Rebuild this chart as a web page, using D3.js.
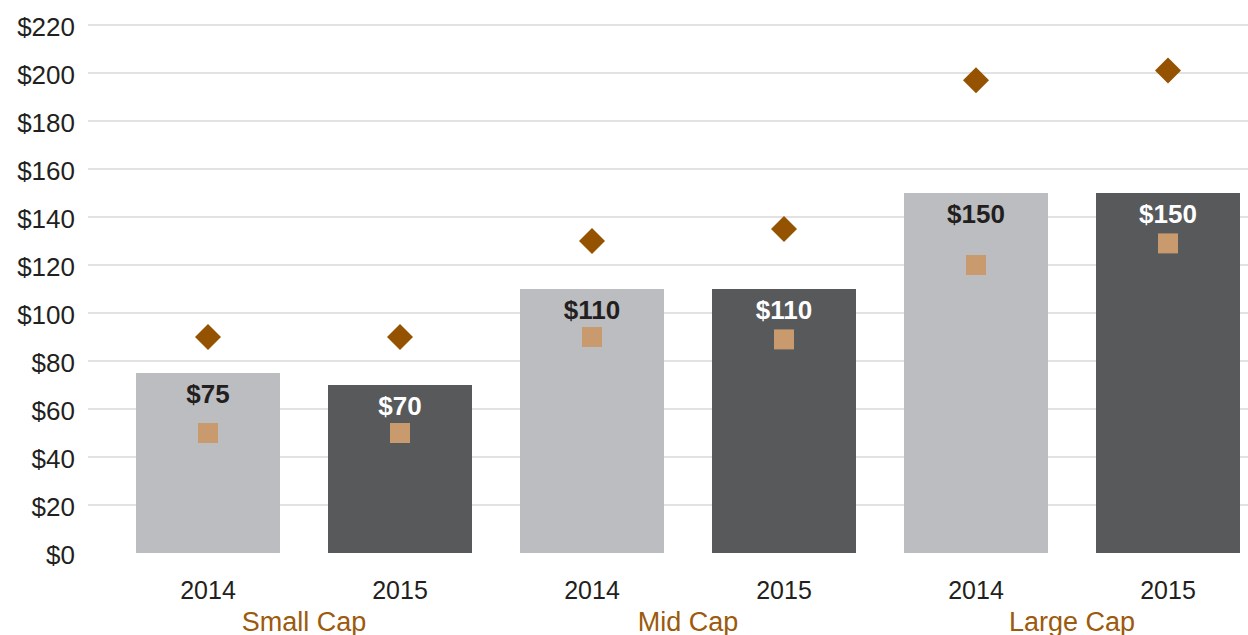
<!DOCTYPE html>
<html><head><meta charset="utf-8">
<script src="https://cdn.jsdelivr.net/npm/d3@7"></script>
<style>body{margin:0;background:#fff}svg{display:block;font-family:"Liberation Sans",Arial,Helvetica,sans-serif}</style>
</head><body><svg id="c" width="1248" height="635"></svg>
<script>
const groups = ["Small Cap", "Mid Cap", "Large Cap"];
const years = ["2014", "2015"];
const barValues = [75, 70, 110, 110, 150, 150];
const diamondValues = [90, 90, 130, 135, 197, 201];
const squareValues = [50, 50, 90, 89, 120, 129];
const yTicks = [0, 20, 40, 60, 80, 100, 120, 140, 160, 180, 200, 220];

const rows = [];
groups.forEach((g, gi) => years.forEach((y, yi) => {
  const i = gi * 2 + yi;
  rows.push({key: g + "|" + y, group: g, year: y, yi, bar: barValues[i], diamond: diamondValues[i], square: squareValues[i]});
}));

const svg = d3.select("#c");
const x = d3.scaleBand().domain(rows.map(d => d.key)).range([112, 1264]).paddingInner(0.25).paddingOuter(0.125);
const y = d3.scaleLinear().domain([0, 220]).range([553, 25]);

// gridlines
svg.append("g").selectAll("line").data(yTicks.filter(t => t > 0)).join("line")
  .attr("x1", 88).attr("x2", 1264)
  .attr("y1", d => y(d)).attr("y2", d => y(d))
  .attr("stroke", "#d9d9d9").attr("stroke-width", 1.5);

// y axis labels
const yAxis = d3.axisLeft(y).tickValues(yTicks).tickFormat(d => "$" + d).tickSize(0).tickPadding(0);
const ya = svg.append("g").attr("transform", "translate(75,0)").call(yAxis);
ya.select(".domain").remove();
ya.selectAll("text").attr("dy", "0.42em").attr("font-size", 26).attr("fill", "#231f20").attr("font-family", "Liberation Sans, Arial, sans-serif");

const barColor = ["#bcbdc0", "#58595b"];
const labelColor = ["#231f20", "#ffffff"];

svg.append("g").selectAll("rect").data(rows).join("rect")
  .attr("x", d => x(d.key)).attr("width", x.bandwidth())
  .attr("y", d => y(d.bar)).attr("height", d => y(0) - y(d.bar))
  .attr("fill", d => barColor[d.yi]);

svg.append("g").selectAll("text").data(rows).join("text")
  .attr("x", d => x(d.key) + x.bandwidth() / 2)
  .attr("y", d => y(d.bar) + 29.5)
  .attr("text-anchor", "middle").attr("font-size", 26).attr("font-weight", "bold")
  .attr("fill", d => labelColor[d.yi])
  .text(d => "$" + d.bar);

// squares
svg.append("g").selectAll("rect").data(rows).join("rect")
  .attr("x", d => x(d.key) + x.bandwidth() / 2 - 10)
  .attr("y", d => y(d.square) - 10)
  .attr("width", 20).attr("height", 20)
  .attr("fill", "#c89a6e");

// diamonds
svg.append("g").selectAll("path").data(rows).join("path")
  .attr("transform", d => `translate(${x(d.key) + x.bandwidth() / 2},${y(d.diamond)})`)
  .attr("d", "M0,-13L13,0L0,13L-13,0Z")
  .attr("fill", "#955302");

// x axis year labels
const xAxis = d3.axisBottom(x).tickFormat(k => k.split("|")[1]).tickSize(0).tickPadding(0);
const xa = svg.append("g").attr("transform", "translate(0,599)").call(xAxis);
xa.select(".domain").remove();
xa.selectAll("text").attr("y", 0).attr("dy", "0").attr("font-size", 25).attr("fill", "#231f20").attr("font-family", "Liberation Sans, Arial, sans-serif");

// group labels
svg.append("g").selectAll("text").data(groups).join("text")
  .attr("x", g => (x(g + "|2014") + x(g + "|2015") + x.bandwidth()) / 2)
  .attr("y", 631)
  .attr("text-anchor", "middle").attr("font-size", 27)
  .attr("fill", "#9c5a0c")
  .text(g => g);
</script></body></html>
